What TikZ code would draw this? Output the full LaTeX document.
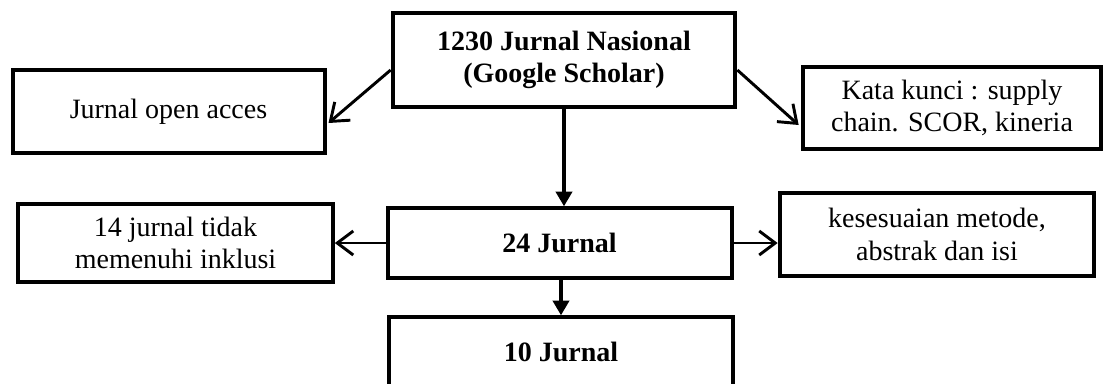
\documentclass[tikz,border=0pt]{standalone}
\usepackage{fontspec}
\setmainfont{Liberation Serif}
\usetikzlibrary{arrows.meta,calc}
\begin{document}
\begin{tikzpicture}[x=0.75pt,y=-0.75pt,
  box/.style={draw=black,line width=3pt,fill=white,inner sep=0pt,align=center,
    font=\fontsize{21}{24.5}\selectfont},
  bbox/.style={box,font=\fontsize{21}{24.5}\selectfont\bfseries},
  openarrow/.style={line width=2.2pt,-{Straight Barb[length=12pt,width=18pt,line width=2.2pt]}},
  solidarrow/.style={line width=3pt,-{Triangle[length=11pt,width=12pt]}}]
\useasboundingbox (0,0) rectangle (1104,383);
\node[bbox,minimum width=257pt,minimum height=71pt] (top) at (564,60) {1230 Jurnal Nasional\\(Google Scholar)};
\node[box,minimum width=234pt,minimum height=62pt] (open) at (168.5,111.5) {Jurnal open acces};
\node[box,minimum width=224pt,minimum height=61pt] (kata) at (952,108) {Kata kunci : supply\\chain. SCOR, kineria};
\node[bbox,minimum width=258pt,minimum height=52pt] (j24) at (559.5,243) {24 Jurnal};
\node[box,minimum width=236pt,minimum height=59pt] (j14) at (175.5,243) {14 jurnal tidak\\memenuhi inklusi};
\node[box,minimum width=236pt,minimum height=62pt] (kes) at (937,234.5) {kesesuaian metode,\\abstrak dan isi};
\node[bbox,minimum width=258pt,minimum height=52pt] (j10) at (561,352) {10 Jurnal};
\draw[openarrow] ($(top.west)+(0,10)$) -- ($(open.east)+(2,11.5)$);
\draw[openarrow] ($(top.east)+(0,10)$) -- ($(kata.west)+(-2,17)$);
\draw[solidarrow] (top.south) -- (top.south |- j24.north);
\draw[openarrow] (j24.west) -- (j24.west -| j14.east);
\draw[openarrow] (j24.east) -- (j24.east -| kes.west);
\draw[solidarrow] (j10.north |- j24.south) -- (j10.north);
\end{tikzpicture}
\end{document}
